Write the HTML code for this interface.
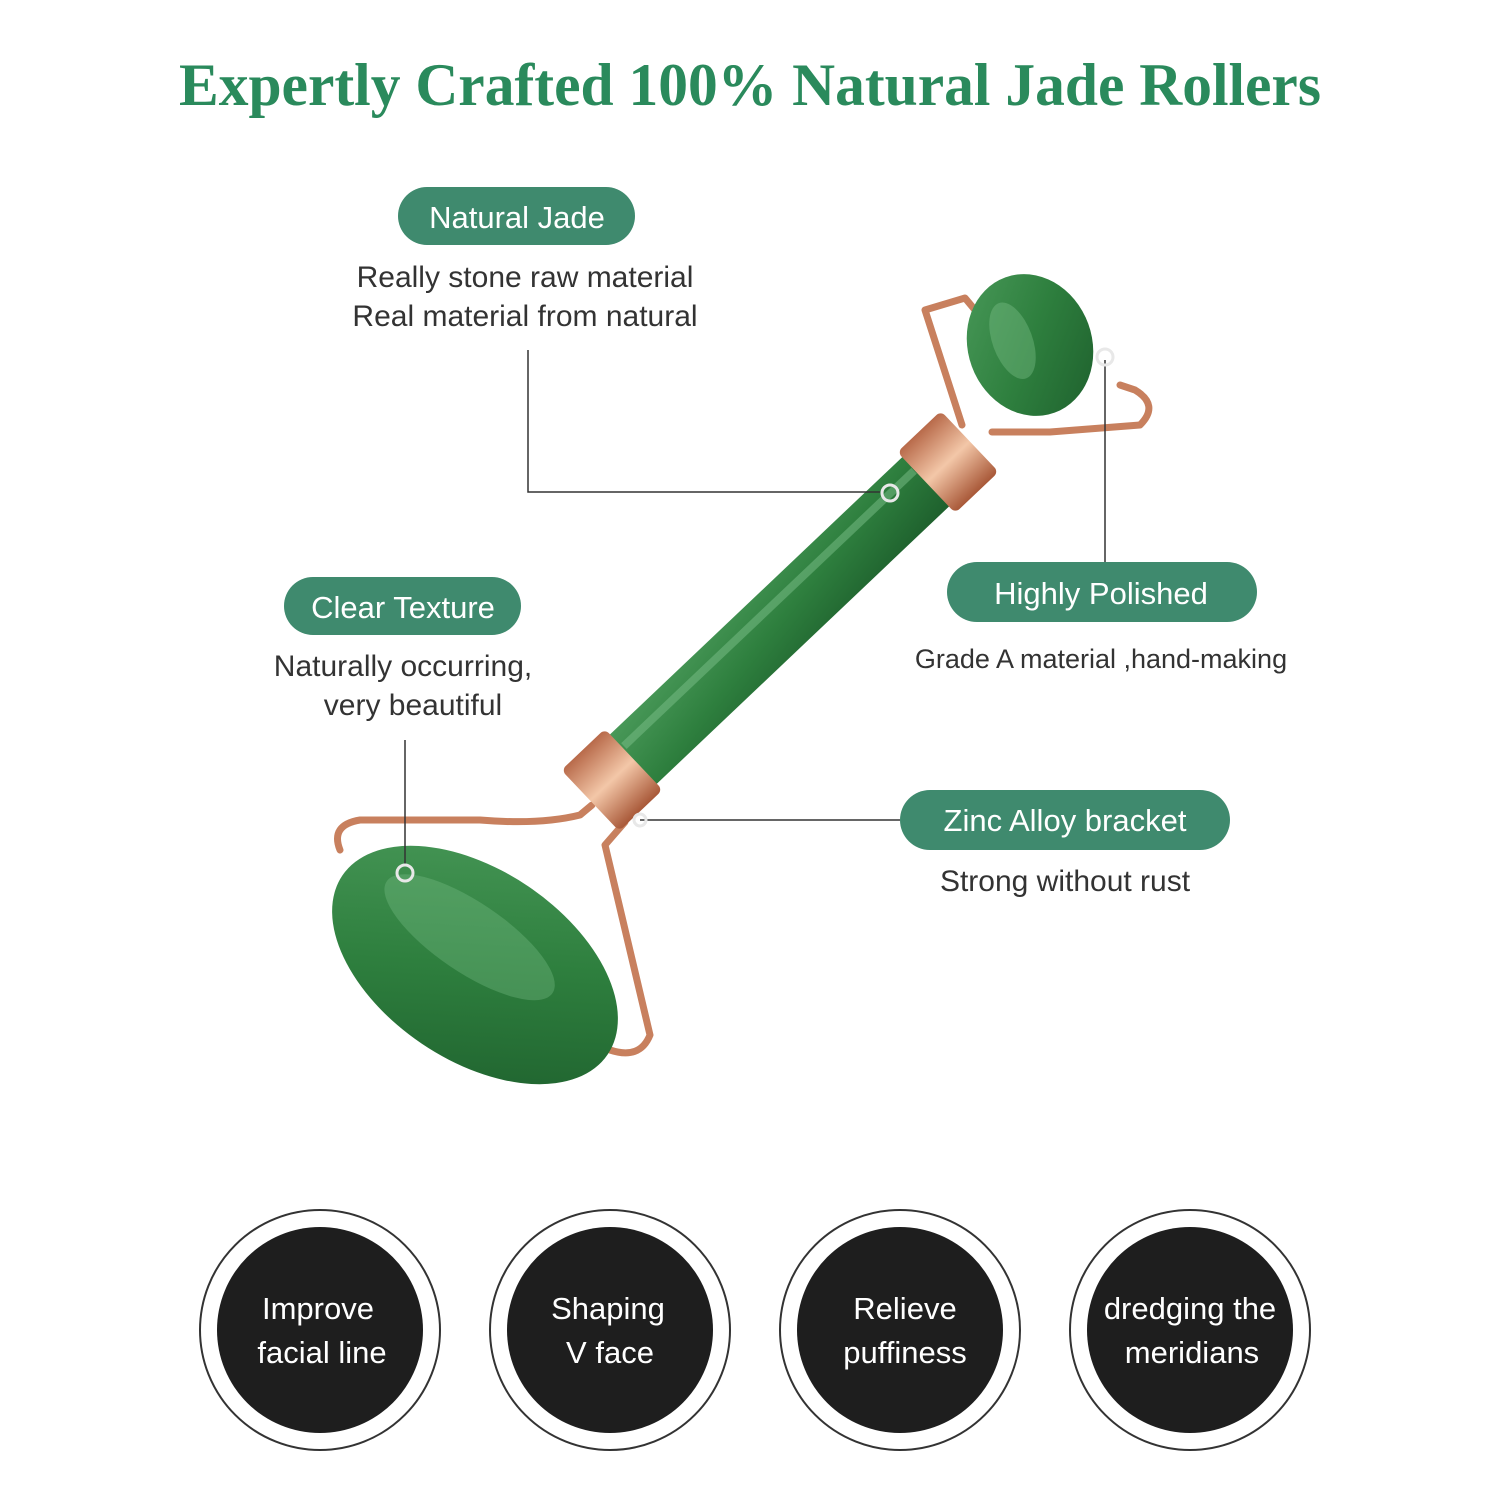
<!DOCTYPE html>
<html><head><meta charset="utf-8"><style>
html,body{margin:0;padding:0;background:#fff;}
svg{display:block}
</style></head><body>
<svg width="1500" height="1500" viewBox="0 0 1500 1500" xmlns="http://www.w3.org/2000/svg">
<defs>
<linearGradient id="jade" x1="0" y1="0" x2="1" y2="1">
<stop offset="0" stop-color="#4a9a5a"/><stop offset="0.5" stop-color="#2e7f3e"/><stop offset="1" stop-color="#1d5e2c"/>
</linearGradient>
<linearGradient id="gold" x1="0" y1="0" x2="0" y2="1">
<stop offset="0" stop-color="#b86a4a"/><stop offset="0.5" stop-color="#f3c7a8"/><stop offset="1" stop-color="#a85838"/>
</linearGradient>
</defs>
<rect width="1500" height="1500" fill="#fff"/>
<text x="750" y="105" text-anchor="middle" font-family="Liberation Serif, serif" font-weight="bold" font-size="60" fill="#2a8a5c" textLength="1142" lengthAdjust="spacingAndGlyphs">Expertly Crafted 100% Natural Jade Rollers</text>

<!-- frame wires -->
<g fill="none" stroke="#c8805e" stroke-width="7" stroke-linecap="round" stroke-linejoin="round">
<path d="M962 425 L925 310 L965 298 L975 310"/>
<path d="M992 432 L1050 432 L1140 425 Q1160 405 1135 390 L1120 385"/>
<path d="M592 805 L580 815 Q540 825 480 820 L360 820 Q330 825 340 850"/>
<path d="M625 822 L605 845 L650 1035 Q640 1060 610 1050"/>
</g>
<!-- handle -->
<g transform="translate(780 620) rotate(-43.5)">
<rect x="-230" y="-34" width="460" height="68" rx="10" fill="url(#jade)"/>
<rect x="-200" y="-20" width="400" height="8" fill="#7cc08a" opacity="0.5"/>
</g>
<!-- collars -->
<g transform="translate(948 462) rotate(-43.5)"><rect x="-30" y="-42" width="60" height="84" rx="6" fill="url(#gold)"/></g>
<g transform="translate(612 780) rotate(-43.5)"><rect x="-30" y="-42" width="60" height="84" rx="6" fill="url(#gold)"/></g>
<!-- top roller -->
<g transform="translate(1030 345) rotate(-20)">
<ellipse cx="0" cy="0" rx="62" ry="72" fill="url(#jade)"/>
<ellipse cx="-15" cy="-10" rx="20" ry="40" fill="#7cc08a" opacity="0.4"/>
</g>
<!-- bottom roller -->
<g transform="translate(475 965) rotate(34)">
<ellipse cx="0" cy="0" rx="160" ry="95" fill="url(#jade)"/>
<ellipse cx="-20" cy="-20" rx="100" ry="35" fill="#7cc08a" opacity="0.35"/>
</g>

<!-- connectors -->
<g fill="none" stroke="#333" stroke-width="1.5">
<path d="M528 350 L528 492 L880 492"/>
<path d="M1105 360 L1105 562"/>
<path d="M405 740 L405 865"/>
<path d="M640 820 L900 820"/>
</g>
<g fill="none" stroke="#e8e8e8" stroke-width="3">
<circle cx="890" cy="493" r="8"/><circle cx="1105" cy="357" r="8"/>
<circle cx="405" cy="873" r="8"/><circle cx="640" cy="820" r="6"/>
</g>

<!-- labels -->
<g font-family="Liberation Sans, sans-serif">
<rect x="398" y="187" width="237" height="58" rx="29" fill="#3f8a6e"/>
<text x="517" y="228" text-anchor="middle" font-size="31" fill="#fff">Natural Jade</text>
<text x="525" y="287" text-anchor="middle" font-size="30" fill="#333">Really stone raw material</text>
<text x="525" y="326" text-anchor="middle" font-size="30" fill="#333">Real material from natural</text>

<rect x="284" y="577" width="237" height="58" rx="29" fill="#3f8a6e"/>
<text x="403" y="618" text-anchor="middle" font-size="31" fill="#fff">Clear Texture</text>
<text x="403" y="676" text-anchor="middle" font-size="30" fill="#333">Naturally occurring,</text>
<text x="413" y="715" text-anchor="middle" font-size="30" fill="#333">very beautiful</text>

<rect x="947" y="562" width="310" height="60" rx="30" fill="#3f8a6e"/>
<text x="1101" y="604" text-anchor="middle" font-size="31" fill="#fff">Highly Polished</text>
<text x="1101" y="668" text-anchor="middle" font-size="27" fill="#333">Grade A material ,hand-making</text>

<rect x="900" y="790" width="330" height="60" rx="30" fill="#3f8a6e"/>
<text x="1065" y="831" text-anchor="middle" font-size="31" fill="#fff">Zinc Alloy bracket</text>
<text x="1065" y="891" text-anchor="middle" font-size="30" fill="#333">Strong without rust</text>
</g>

<!-- circles -->
<g font-family="Liberation Sans, sans-serif" font-size="31" fill="#fff" text-anchor="middle">
<circle cx="320" cy="1330" r="120" fill="none" stroke="#333" stroke-width="2"/>
<circle cx="320" cy="1330" r="103" fill="#1e1e1e"/>
<text x="318" y="1319">Improve</text><text x="322" y="1363">facial line</text>
<circle cx="610" cy="1330" r="120" fill="none" stroke="#333" stroke-width="2"/>
<circle cx="610" cy="1330" r="103" fill="#1e1e1e"/>
<text x="608" y="1319">Shaping</text><text x="610" y="1363">V face</text>
<circle cx="900" cy="1330" r="120" fill="none" stroke="#333" stroke-width="2"/>
<circle cx="900" cy="1330" r="103" fill="#1e1e1e"/>
<text x="905" y="1319">Relieve</text><text x="905" y="1363">puffiness</text>
<circle cx="1190" cy="1330" r="120" fill="none" stroke="#333" stroke-width="2"/>
<circle cx="1190" cy="1330" r="103" fill="#1e1e1e"/>
<text x="1190" y="1319">dredging the</text><text x="1192" y="1363">meridians</text>
</g>
</svg>
</body></html>
